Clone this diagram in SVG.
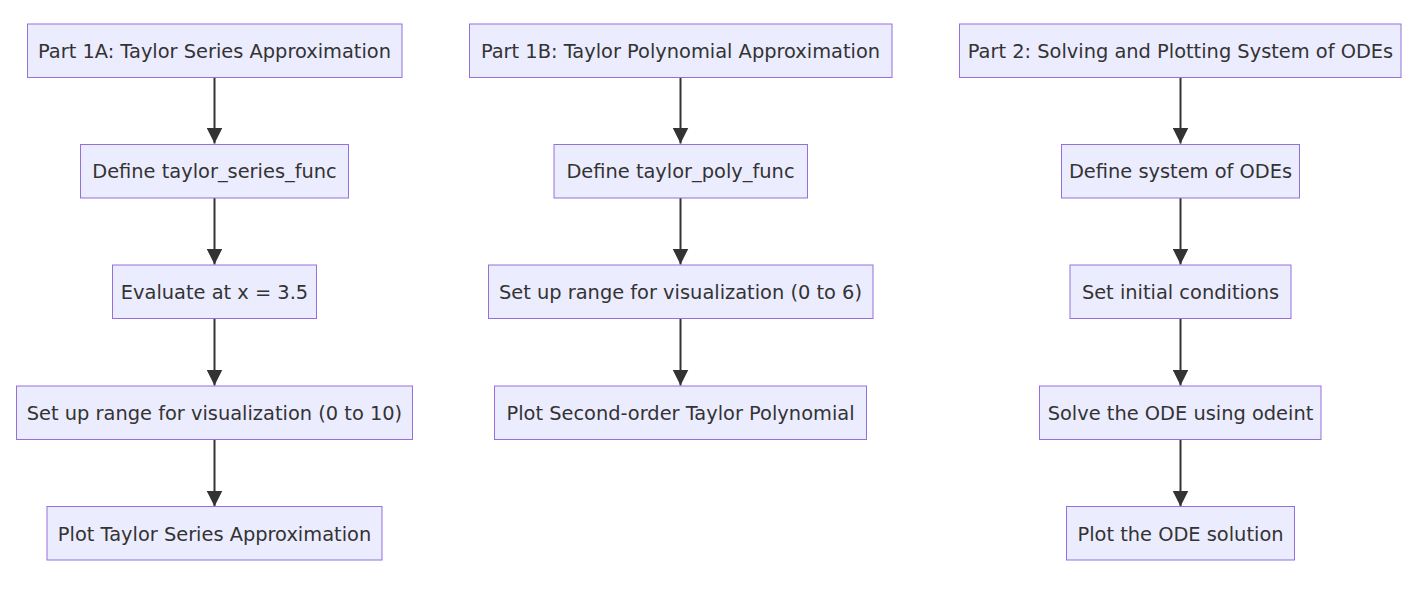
<svg xmlns="http://www.w3.org/2000/svg" width="1414" height="606" viewBox="0 0 1414 606">
<style>
.node rect{fill:#ECECFF;stroke:#9370DB;stroke-width:1}
.node text{font-family:"DejaVu Sans",sans-serif;font-size:19.4px;fill:#333;text-anchor:middle}
.edge{stroke:#333;stroke-width:2;fill:none}
</style>
<defs>
<marker id="arr" markerUnits="userSpaceOnUse" viewBox="0 0 10 10" markerWidth="16" markerHeight="16" refX="10" refY="5" orient="auto">
<path d="M0,0 L10,5 L0,10 z" fill="#333"/>
</marker>
</defs>
<rect width="1414" height="606" fill="#fff"/>
<g id="edges">
<line class="edge" x1="214.5" y1="77.5" x2="214.5" y2="143.5" marker-end="url(#arr)"/>
<line class="edge" x1="214.5" y1="198" x2="214.5" y2="264.5" marker-end="url(#arr)"/>
<line class="edge" x1="214.5" y1="318.5" x2="214.5" y2="385.5" marker-end="url(#arr)"/>
<line class="edge" x1="214.5" y1="439" x2="214.5" y2="506.5" marker-end="url(#arr)"/>
<line class="edge" x1="680.5" y1="77.5" x2="680.5" y2="143.5" marker-end="url(#arr)"/>
<line class="edge" x1="680.5" y1="198" x2="680.5" y2="264.5" marker-end="url(#arr)"/>
<line class="edge" x1="680.5" y1="318.5" x2="680.5" y2="385.5" marker-end="url(#arr)"/>
<line class="edge" x1="1180.5" y1="77.5" x2="1180.5" y2="143.5" marker-end="url(#arr)"/>
<line class="edge" x1="1180.5" y1="198" x2="1180.5" y2="264.5" marker-end="url(#arr)"/>
<line class="edge" x1="1180.5" y1="318.5" x2="1180.5" y2="385.5" marker-end="url(#arr)"/>
<line class="edge" x1="1180.5" y1="439" x2="1180.5" y2="506.5" marker-end="url(#arr)"/>
</g>
<g id="A1" class="node"><rect x="27.5" y="24" width="374.5" height="53.5"/><text x="214.5" y="57.8">Part 1A: Taylor Series Approximation</text></g>
<g id="A2" class="node"><rect x="80.5" y="144.5" width="268" height="53.5"/><text x="214.5" y="178.3">Define taylor_series_func</text></g>
<g id="A3" class="node"><rect x="112.5" y="265" width="204" height="53.5"/><text x="214.5" y="299">Evaluate at x = 3.5</text></g>
<g id="A4" class="node"><rect x="16.5" y="386" width="396" height="53.5"/><text x="214.5" y="419.8">Set up range for visualization (0 to 10)</text></g>
<g id="A5" class="node"><rect x="47" y="506.5" width="335" height="53.5"/><text x="214.5" y="540.8">Plot Taylor Series Approximation</text></g>
<g id="B1" class="node"><rect x="469.5" y="24" width="422.5" height="53.5"/><text x="680.5" y="57.8">Part 1B: Taylor Polynomial Approximation</text></g>
<g id="B2" class="node"><rect x="554" y="144.5" width="253.5" height="53.5"/><text x="680.5" y="178.3">Define taylor_poly_func</text></g>
<g id="B3" class="node"><rect x="488.5" y="265" width="384.5" height="53.5"/><text x="680.5" y="299">Set up range for visualization (0 to 6)</text></g>
<g id="B4" class="node"><rect x="494.5" y="386" width="372" height="53.5"/><text x="680.5" y="419.8">Plot Second-order Taylor Polynomial</text></g>
<g id="C1" class="node"><rect x="959.5" y="24" width="441.5" height="53.5"/><text x="1180.5" y="57.8">Part 2: Solving and Plotting System of ODEs</text></g>
<g id="C2" class="node"><rect x="1061.5" y="144.5" width="238" height="53.5"/><text x="1180.5" y="178.3">Define system of ODEs</text></g>
<g id="C3" class="node"><rect x="1070" y="265" width="221" height="53.5"/><text x="1180.5" y="299">Set initial conditions</text></g>
<g id="C4" class="node"><rect x="1039.5" y="386" width="281.5" height="53.5"/><text x="1180.5" y="419.8">Solve the ODE using odeint</text></g>
<g id="C5" class="node"><rect x="1066.5" y="506.5" width="228" height="53.5"/><text x="1180.5" y="540.8">Plot the ODE solution</text></g>
</svg>
